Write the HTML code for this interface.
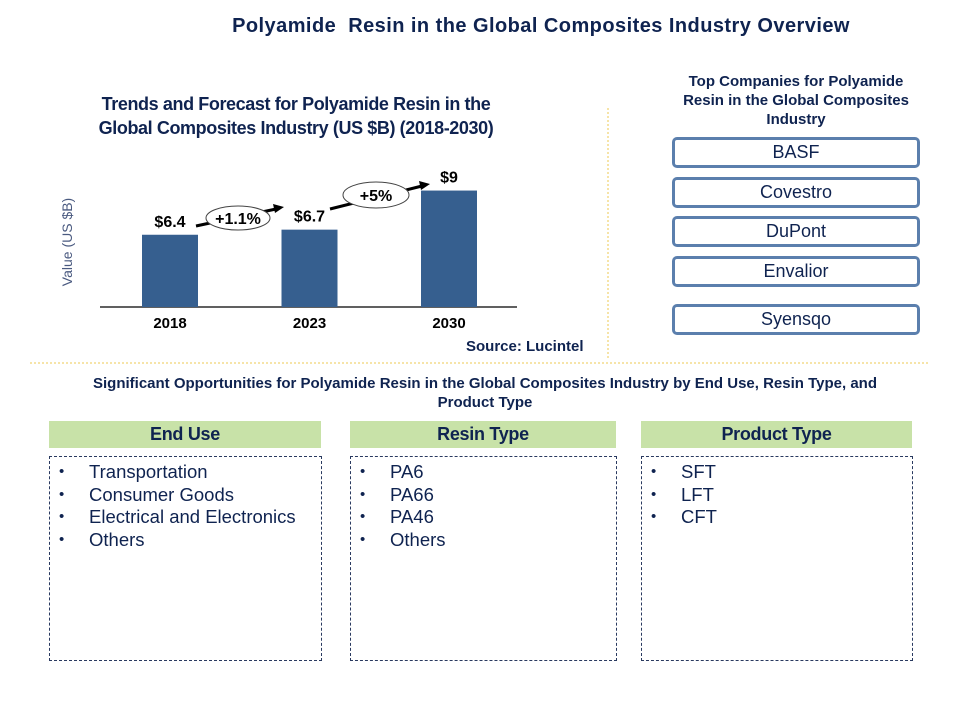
<!DOCTYPE html>
<html><head><meta charset="utf-8"><style>
body{margin:0;width:960px;height:720px;background:#fff;position:relative;overflow:hidden;font-family:"Liberation Sans",Arial,sans-serif;color:#0f2350}
.a{position:absolute}
.b{font-weight:bold}
.co{position:absolute;left:672px;width:242px;height:25px;border:3px solid #5b7fad;border-radius:5px;text-align:center;font-size:18px;line-height:25px;color:#0f2350}
.hd{position:absolute;top:421px;height:27px;background:#c8e2a8;text-align:center;font-weight:bold;font-size:18px;line-height:27px;letter-spacing:-0.3px}
.bx{position:absolute;top:456px;height:203px;border:1px dashed #2a3a60}
.bx ul{margin:0;padding:4px 0 0 0;list-style:none}
.bx li{font-size:18.5px;line-height:22.5px;position:relative;padding-left:39px}
.bx li:before{content:"•";position:absolute;left:9px;font-size:15px}
</style></head><body>
<div class="a b" style="left:0;width:1082px;top:15px;text-align:center;font-size:20px;letter-spacing:0.45px">Polyamide&nbsp; Resin in the Global Composites Industry Overview</div>
<div class="a b" style="left:26px;width:540px;top:92px;text-align:center;font-size:18px;line-height:24px;letter-spacing:-0.4px">Trends and Forecast for Polyamide Resin in the<br>Global Composites Industry (US $B) (2018-2030)</div>
<svg class="a" style="left:0;top:0" width="960" height="720">
<text transform="translate(72,242) rotate(-90)" text-anchor="middle" font-size="14" fill="#4a5a80" font-family="Liberation Sans, sans-serif">Value (US $B)</text>
<line x1="100" y1="307" x2="517" y2="307" stroke="#000" stroke-width="1.3"/>
<g id="bars"></g>
<g>
<line x1="196" y1="226" x2="276" y2="209" stroke="#000" stroke-width="3"/>
<polygon points="284,207 273,204 275,213" fill="#000"/>
<ellipse cx="238" cy="218" rx="32" ry="12" fill="#fff" stroke="#444"/>
<text x="238" y="224" text-anchor="middle" font-size="16" font-weight="bold" font-family="Liberation Sans, sans-serif">+1.1%</text>
<line x1="330" y1="209" x2="422" y2="186" stroke="#000" stroke-width="3"/>
<polygon points="430,184 419,181 421,190" fill="#000"/>
<ellipse cx="376" cy="195" rx="33" ry="13" fill="#fff" stroke="#444"/>
<text x="376" y="201" text-anchor="middle" font-size="16" font-weight="bold" font-family="Liberation Sans, sans-serif">+5%</text>
</g>
<line x1="608" y1="108" x2="608" y2="360" stroke="#ecc850" stroke-dasharray="2,2"/>
<line x1="30" y1="363" x2="928" y2="363" stroke="#ecc850" stroke-dasharray="2,2"/>
</svg>
<div class="a b" style="left:466px;top:338px;font-size:15px">Source: Lucintel</div>
<div class="a b" style="left:671px;width:250px;top:72px;text-align:center;font-size:15px;line-height:19px">Top Companies for Polyamide Resin in the Global Composites Industry</div>
<div class="co" style="top:137px">BASF</div>
<div class="co" style="top:177px">Covestro</div>
<div class="co" style="top:216px">DuPont</div>
<div class="co" style="top:256px">Envalior</div>
<div class="co" style="top:304px">Syensqo</div>
<div class="a b" style="left:40px;width:890px;top:374px;text-align:center;font-size:15px;line-height:19px">Significant Opportunities for Polyamide Resin in the Global Composites Industry by End Use, Resin Type, and<br>Product Type</div>
<div class="hd" style="left:49px;width:272px">End Use</div>
<div class="hd" style="left:350px;width:266px">Resin Type</div>
<div class="hd" style="left:641px;width:271px">Product Type</div>
<div class="bx" style="left:49px;width:271px"><ul><li>Transportation</li><li>Consumer Goods</li><li>Electrical and Electronics</li><li>Others</li></ul></div>
<div class="bx" style="left:350px;width:265px"><ul><li>PA6</li><li>PA66</li><li>PA46</li><li>Others</li></ul></div>
<div class="bx" style="left:641px;width:270px"><ul><li>SFT</li><li>LFT</li><li>CFT</li></ul></div>
<script>
const years=["2018","2023","2030"];
const values=[6.4,6.7,9];
const valueLabels=["$6.4","$6.7","$9"];
const ns="http://www.w3.org/2000/svg";
const g=document.getElementById("bars");
const base=307, pxPerUnit=17, domainMin=2.15;
function xc(i){return 170+i*139.5;}
function yv(v){return base-(v-domainMin)*pxPerUnit;}
years.forEach((yr,i)=>{
 const r=document.createElementNS(ns,"rect");
 
 
 r.setAttribute("x",xc(i)-28);r.setAttribute("width",56);
 r.setAttribute("y",yv(values[i]));r.setAttribute("height",base-yv(values[i]));
 r.setAttribute("fill","#365f8f");g.appendChild(r);
 const t=document.createElementNS(ns,"text");
 
 
 t.setAttribute("x",xc(i));t.setAttribute("y",yv(values[i])-8);
 t.setAttribute("text-anchor","middle");t.setAttribute("font-size","16");t.setAttribute("font-weight","bold");
 t.setAttribute("font-family","Liberation Sans, sans-serif");t.textContent=valueLabels[i];g.appendChild(t);
 const l=document.createElementNS(ns,"text");
 
 
 l.setAttribute("x",xc(i));l.setAttribute("y",328);
 l.setAttribute("text-anchor","middle");l.setAttribute("font-size","15");l.setAttribute("font-weight","bold");
 l.setAttribute("font-family","Liberation Sans, sans-serif");l.textContent=yr;g.appendChild(l);
});
</script>
</body></html>
